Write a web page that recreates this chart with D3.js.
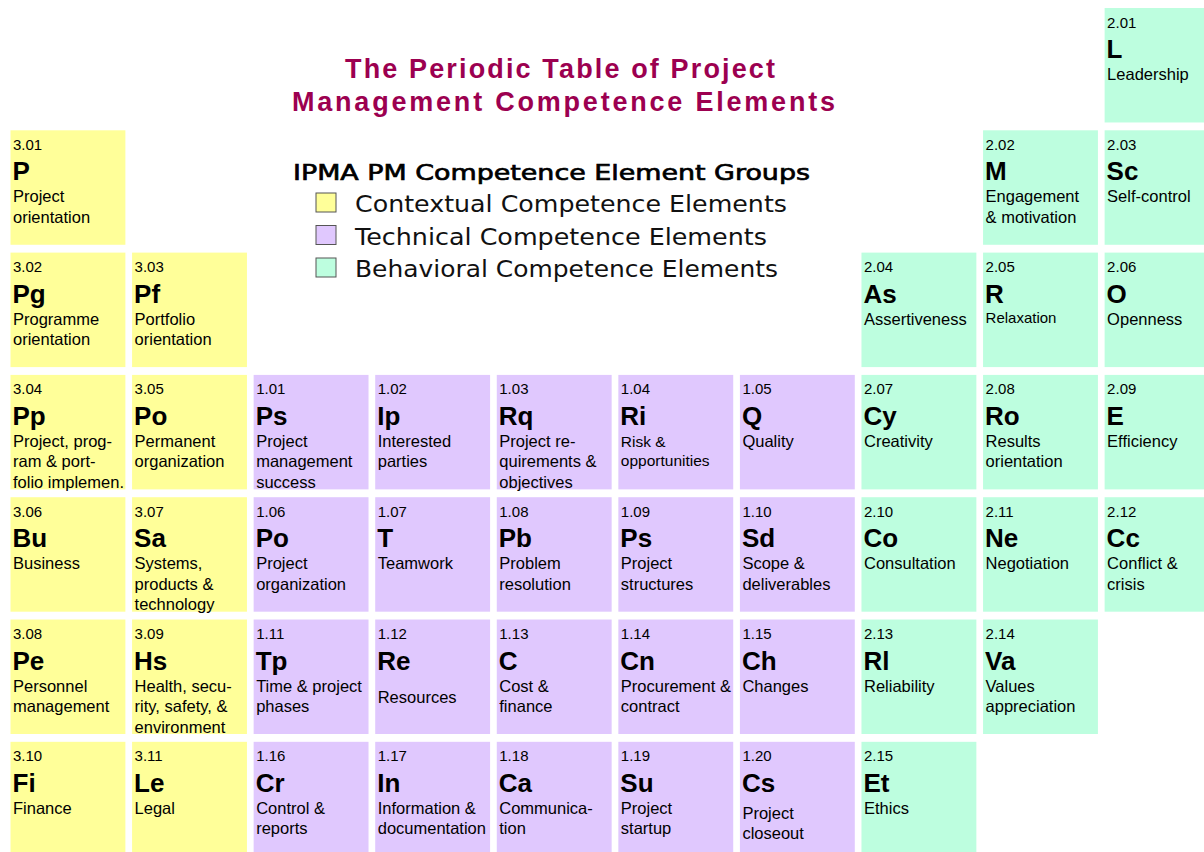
<!DOCTYPE html>
<html>
<head>
<meta charset="utf-8">
<script src="https://cdn.jsdelivr.net/npm/d3@7"></script>
<style>
  body { margin: 0; background: #fff; }
  svg { display: block; }
</style>
</head>
<body>
<div class="content"></div>
<script>
const width = 1204
const height = 852

// element data
const codes = ['2.01',
  '3.01', '2.02', '2.03',
  '3.02', '3.03', '2.04', '2.05', '2.06',
  '3.04', '3.05', '1.01', '1.02', '1.03', '1.04', '1.05', '2.07', '2.08', '2.09',
  '3.06', '3.07', '1.06', '1.07', '1.08', '1.09', '1.10', '2.10', '2.11', '2.12',
  '3.08', '3.09', '1.11', '1.12', '1.13', '1.14', '1.15', '2.13', '2.14',
  '3.10', '3.11', '1.16', '1.17', '1.18', '1.19', '1.20', '2.15']
const symbols = ['L',
  'P', 'M', 'Sc',
  'Pg', 'Pf', 'As', 'R', 'O',
  'Pp', 'Po', 'Ps', 'Ip', 'Rq', 'Ri', 'Q', 'Cy', 'Ro', 'E',
  'Bu', 'Sa', 'Po', 'T', 'Pb', 'Ps', 'Sd', 'Co', 'Ne', 'Cc',
  'Pe', 'Hs', 'Tp', 'Re', 'C', 'Cn', 'Ch', 'Rl', 'Va',
  'Fi', 'Le', 'Cr', 'In', 'Ca', 'Su', 'Cs', 'Et']
const names = [['Leadership'],
  ['Project', 'orientation'], ['Engagement', '& motivation'], ['Self-control'],
  ['Programme', 'orientation'], ['Portfolio', 'orientation'], ['Assertiveness'], ['Relaxation'], ['Openness'],
  ['Project, prog-', 'ram & port-', 'folio implemen.'], ['Permanent', 'organization'],
  ['Project', 'management', 'success'], ['Interested', 'parties'], ['Project re-', 'quirements &', 'objectives'],
  ['Risk &', 'opportunities'], ['Quality'], ['Creativity'], ['Results', 'orientation'], ['Efficiency'],
  ['Business'], ['Systems,', 'products &', 'technology'], ['Project', 'organization'], ['Teamwork'],
  ['Problem', 'resolution'], ['Project', 'structures'], ['Scope &', 'deliverables'], ['Consultation'],
  ['Negotiation'], ['Conflict &', 'crisis'],
  ['Personnel', 'management'], ['Health, secu-', 'rity, safety, &', 'environment'], ['Time & project', 'phases'],
  ['Resources'], ['Cost &', 'finance'], ['Procurement &', 'contract'], ['Changes'], ['Reliability'],
  ['Values', 'appreciation'],
  ['Finance'], ['Legal'], ['Control &', 'reports'], ['Information &', 'documentation'], ['Communica-', 'tion'],
  ['Project', 'startup'], ['Project', 'closeout'], ['Ethics']]
// table group (column) and period (row)
const tableCol = [9,
  0, 8, 9,
  0, 1, 7, 8, 9,
  0, 1, 2, 3, 4, 5, 6, 7, 8, 9,
  0, 1, 2, 3, 4, 5, 6, 7, 8, 9,
  0, 1, 2, 3, 4, 5, 6, 7, 8,
  0, 1, 2, 3, 4, 5, 6, 7]
const tableRow = [0,
  1, 1, 1,
  2, 2, 2, 2, 2,
  3, 3, 3, 3, 3, 3, 3, 3, 3, 3,
  4, 4, 4, 4, 4, 4, 4, 4, 4, 4,
  5, 5, 5, 5, 5, 5, 5, 5, 5,
  6, 6, 6, 6, 6, 6, 6, 6]

const groupNames = ['Contextual Competence Elements', 'Technical Competence Elements', 'Behavioral Competence Elements']
const groupKeys = ['3', '1', '2']
const titleLines = ['The Periodic Table of Project', 'Management Competence Elements']
const legendTitle = 'IPMA PM Competence Element Groups'

const elements = codes.map((c, i) => ({
  code: c, symbol: symbols[i], name: names[i],
  group: c.split('.')[0], col: tableCol[i], row: tableRow[i]
}))

const color = d3.scaleOrdinal()
  .domain(groupKeys)
  .range(['#ffff99', '#e0c8fe', '#bdfedf'])

const x = d3.scaleBand()
  .domain(d3.range(10))
  .range([10.5, 1219.5])
  .paddingInner(0.055)
const y = d3.scaleBand()
  .domain(d3.range(7))
  .range([8, 856.3])
  .paddingInner(0.064)

// small per-cell text tweaks seen in the original
const nameShift = { '1.12': 11, '1.20': 5, '2.05': -2 }
const nameSize = { '1.04': 15.5, '2.05': 15 }

const font = 'Liberation Sans, Arial, sans-serif'

const svg = d3.select('div.content')
  .append('svg')
  .attr('width', width)
  .attr('height', height)

const cell = svg.selectAll('g.cell')
  .data(elements)
  .join('g')
  .attr('class', 'cell')
  .attr('transform', d => `translate(${x(d.col)},${y(d.row)})`)

cell.append('rect')
  .attr('width', x.bandwidth())
  .attr('height', y.bandwidth())
  .attr('fill', d => color(d.group))

cell.append('text')
  .attr('x', 2.5)
  .attr('y', 19.5)
  .attr('font-family', font)
  .attr('font-size', 15)
  .attr('fill', '#000')
  .text(d => d.code)

cell.append('text')
  .attr('x', 2)
  .attr('y', 50)
  .attr('font-family', font)
  .attr('font-size', 26)
  .attr('font-weight', 'bold')
  .attr('fill', '#000')
  .text(d => d.symbol)

cell.append('text')
  .attr('font-family', font)
  .attr('font-size', d => nameSize[d.code] || 16.5)
  .attr('fill', '#000')
  .selectAll('tspan')
  .data(d => d.name.map((t, j) => ({ t, j, d })))
  .join('tspan')
  .attr('x', 2.5)
  .attr('y', e => 72 + (nameShift[e.d.code] || 0) + e.j * (nameSize[e.d.code] ? 19 : 20.5))
  .text(e => e.t)

// title
svg.selectAll('text.title')
  .data(titleLines)
  .join('text')
  .attr('class', 'title')
  .attr('x', (d, i) => [345, 292][i])
  .attr('y', (d, i) => 78 + i * 33)
  .attr('textLength', (d, i) => [430, 543][i])
  .attr('lengthAdjust', 'spacing')
  .attr('font-family', font)
  .attr('font-size', 27)
  .attr('font-weight', 'bold')
  .attr('fill', '#9c0050')
  .text(d => d)

// legend
svg.append('text')
  .attr('x', 293)
  .attr('y', 180)
  .attr('textLength', 517)
  .attr('lengthAdjust', 'spacingAndGlyphs')
  .attr('font-family', 'DejaVu Sans, Verdana, sans-serif')
  .attr('font-size', 22)
  .attr('fill', '#000')
  .attr('stroke', '#000')
  .attr('stroke-width', 0.7)
  .text(legendTitle)

const legend = svg.selectAll('g.legend')
  .data(groupKeys)
  .join('g')
  .attr('class', 'legend')
  .attr('transform', (d, i) => `translate(316,${193 + i * 32.5})`)

legend.append('rect')
  .attr('width', 20)
  .attr('height', 19)
  .attr('fill', d => color(d))
  .attr('stroke', '#555')
  .attr('stroke-width', 1)

legend.append('text')
  .attr('x', 39)
  .attr('y', 19)
  .attr('textLength', (d, i) => [432, 412, 423][i])
  .attr('lengthAdjust', 'spacingAndGlyphs')
  .attr('font-family', 'DejaVu Sans, Verdana, sans-serif')
  .attr('font-size', 23)
  .attr('fill', '#111')
  .text((d, i) => groupNames[i])
</script>
</body>
</html>
